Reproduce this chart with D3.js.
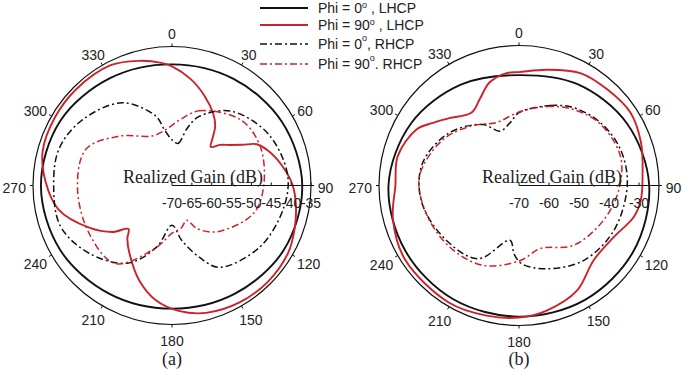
<!DOCTYPE html>
<html lang="en">
<head>
<meta charset="utf-8">
<title>Realized gain polar</title>
<script src="https://cdn.jsdelivr.net/npm/d3@7"></script>
<style>
body { margin: 0; background: #fff; }
</style>
</head>
<body>
<script>
var w = 685, h = 377;

// angle labels round both plots
var angleTicks = [0, 30, 60, 90, 120, 150, 180, 210, 240, 270, 300, 330];
var gainTicksA = [-70, -65, -60, -55, -50, -45, -40, -35];
var gainTicksB = [-70, -60, -50, -40, -30];

// legend
var legendNames = [["Phi = 0", " , LHCP"], ["Phi = 90", " , LHCP"], ["Phi = 0", ", RHCP"], ["Phi = 90", ". RHCP"]];

// (a) Phi = 0, LHCP
var aAng0L = [0, 30, 60, 90, 120, 150, 180, 210, 240, 270, 300, 330];
var aDb0L  = [-39.5, -39, -38, -37.2, -37.5, -38.5, -39, -38.5, -37.5, -37, -37.5, -38.8];
// (a) Phi = 90, LHCP
var aAng90L = [0, 10, 20, 30, 36, 41, 45, 50, 55, 60, 64, 70, 80, 90, 100, 110, 120, 135, 150, 165, 177, 188, 199, 212, 220, 225, 232, 243, 258, 272, 285, 300, 315, 333, 345, 355];
var aDb90L  = [-40, -42.8, -46, -49.2, -51.5, -54.5, -56.2, -54.1, -52.2, -49.5, -46.3, -44.3, -41.8, -39.6, -38.3, -37.2, -36.2, -35.8, -36, -36.8, -38.4, -40.8, -44.7, -49.8, -52.5, -54.5, -51, -46.6, -40.8, -38.1, -36.3, -35.9, -35.8, -36, -37.5, -39];
// (a) Phi = 0, RHCP
var aAng0R = [0, 8, 15, 21, 38, 61, 84, 101, 125, 150, 159, 170, 180, 194, 210, 231, 250, 270, 288, 306, 329, 347, 352];
var aDb0R  = [-58.5, -59.3, -55, -51.5, -46.2, -42.6, -40.8, -41.3, -43, -46.2, -50.6, -56, -60, -54, -47.4, -43, -40.1, -40.2, -40.1, -42, -45.7, -52.1, -55.7];
// (a) Phi = 90, RHCP
var aAng90R = [7, 20, 46, 66, 90, 109, 136, 150, 157, 168, 180, 194, 216, 240, 269, 293, 313, 339, 354];
var aDb90R  = [-53.3, -50, -46.1, -45.7, -46.9, -48.3, -53.8, -57.5, -60.5, -59, -58, -54, -45.7, -45.9, -46.2, -46.5, -51.8, -56.6, -55.8];

// (b) Phi = 0, LHCP
var bAng0L = [0, 30, 60, 90, 120, 150, 180, 210, 240, 270, 300, 330];
var bDb0L  = [-33.2, -31, -28.5, -26.6, -26, -26, -26.3, -26.2, -26.3, -26.5, -28.5, -31.2];
// (b) Phi = 90, LHCP
var bAng90L = [0, 13.5, 28.6, 42.5, 57, 70.7, 84.3, 96.8, 105.2, 118.4, 135, 151, 167.5, 180, 194, 211, 237, 255, 270, 283.5, 298.5, 306, 314, 327, 335.5, 344, 353.7];
var bDb90L  = [-32.2, -30.3, -27.3, -26.5, -25.6, -26.9, -28.6, -29.1, -30.3, -34, -34.8, -30, -27.3, -26, -25.3, -24.5, -24.7, -26.5, -28.8, -28.4, -31, -34.5, -37.7, -41, -38.4, -34.3, -32.3];
// (b) Phi = 0, RHCP
var bAng0R = [0, 21.3, 35.1, 52.4, 70.5, 89.5, 115.2, 139.1, 161.5, 178, 184, 189.4, 209.2, 236, 261.6, 283.1, 307.2, 329.5, 340.6, 351.8];
var bDb0R  = [-45.7, -41.4, -38.3, -35.7, -34.1, -33.9, -35, -37, -40.7, -43.9, -47, -51.5, -42, -39.4, -37, -37, -40.9, -46.4, -50.8, -48.9];
// (b) Phi = 90, RHCP
var bAng90R = [0, 19.5, 35.7, 53.2, 74, 92.5, 112.2, 137.5, 161.5, 179, 204.2, 228.5, 253.3, 275.2, 301.1, 322.6, 340.3];
var bDb90R  = [-45.5, -42.1, -38.8, -36, -34.8, -36.7, -39.5, -43, -47.8, -45, -40.8, -39.1, -37.7, -36.7, -40.4, -44.8, -47.7];

var red = "#cc2229";
var dashDot = "7,3,2,3";

function zip(angs, dbs) {
  return angs.map(function (a, i) { return {a: a, v: dbs[i]}; });
}

var svg = d3.select("body").append("svg")
  .attr("width", w)
  .attr("height", h);

function drawPolar(cfg) {
  var g = svg.append("g")
    .attr("transform", "translate(" + cfg.cx + "," + cfg.cy + ")");

  var rScale = d3.scaleLinear().domain(cfg.domain).range([0, cfg.rTick]);
  var rad = function (d) { return d * Math.PI / 180; };

  // outer ring
  g.append("circle")
    .attr("r", cfg.R)
    .attr("fill", "none")
    .attr("stroke", "#111")
    .attr("stroke-width", 1.2);

  // small ticks outside the ring
  g.selectAll(".aTick")
    .data(angleTicks)
    .enter()
    .append("line")
    .attr("x1", function (d) { return cfg.R * Math.sin(rad(d)); })
    .attr("y1", function (d) { return -cfg.R * Math.cos(rad(d)); })
    .attr("x2", function (d) { return (cfg.R + 3) * Math.sin(rad(d)); })
    .attr("y2", function (d) { return -(cfg.R + 3) * Math.cos(rad(d)); })
    .attr("stroke", "#111")
    .attr("stroke-width", 1);

  // angle labels: wider ring sideways to leave room for the digits
  g.selectAll(".aLab")
    .data(angleTicks)
    .enter()
    .append("text")
    .attr("x", function (d) {
      var tw = String(d).length * 8.5;
      return (cfg.R + 6 + tw / 2) * Math.sin(rad(d));
    })
    .attr("y", function (d) {
      return 2 - (cfg.R + 14.5) * Math.cos(rad(d));
    })
    .attr("dy", "0.36em")
    .attr("text-anchor", "middle")
    .attr("font-family", "Arial, 'Liberation Sans', sans-serif")
    .attr("font-size", "14px")
    .attr("fill", "#222")
    .text(function (d) { return d; });

  // pattern curves
  var line = d3.lineRadial()
    .angle(function (d) { return rad(d.a); })
    .radius(function (d) { return rScale(d.v); })
    .curve(d3.curveCatmullRomClosed.alpha(0.5));

  cfg.series.forEach(function (s) {
    g.append("path")
      .datum(zip(s.ang, s.db))
      .attr("d", line)
      .attr("fill", "none")
      .attr("stroke", s.color)
      .attr("stroke-width", s.dash ? 1.5 : 1.9)
      .attr("stroke-dasharray", s.dash ? dashDot : null);
  });

  // radial axis along 90 deg
  g.append("line")
    .attr("x1", 0).attr("y1", 0)
    .attr("x2", cfg.R + 2).attr("y2", 0)
    .attr("stroke", "#111")
    .attr("stroke-width", 1.2);

  g.selectAll(".rTick")
    .data(cfg.ticks)
    .enter()
    .append("line")
    .attr("x1", function (d) { return rScale(d); })
    .attr("x2", function (d) { return rScale(d); })
    .attr("y1", 0).attr("y2", -3)
    .attr("stroke", "#111");

  g.selectAll(".rLab")
    .data(cfg.ticks)
    .enter()
    .append("text")
    .attr("x", function (d) { return rScale(d); })
    .attr("y", 22)
    .attr("text-anchor", "middle")
    .attr("font-family", "Arial, 'Liberation Sans', sans-serif")
    .attr("font-size", "14px")
    .attr("fill", "#222")
    .text(function (d) { return d; });

  g.append("text")
    .attr("x", cfg.titleX)
    .attr("y", -3)
    .attr("text-anchor", "end")
    .attr("font-family", "'Liberation Serif', 'Times New Roman', serif")
    .attr("font-size", "18px")
    .attr("fill", "#222")
    .text("Realized Gain (dB)");

  svg.append("text")
    .attr("x", cfg.cx)
    .attr("y", 365)
    .attr("text-anchor", "middle")
    .attr("font-family", "'Liberation Serif', 'Times New Roman', serif")
    .attr("font-size", "18px")
    .attr("fill", "#222")
    .text(cfg.caption);
}

drawPolar({
  cx: 172, cy: 185.5, R: 139, rTick: 139, domain: [-70, -35], ticks: gainTicksA,
  titleX: 91, caption: "(a)",
  series: [
    {ang: aAng0L, db: aDb0L, color: "#111", dash: false},
    {ang: aAng90L, db: aDb90L, color: red, dash: false},
    {ang: aAng0R, db: aDb0R, color: "#111", dash: true},
    {ang: aAng90R, db: aDb90R, color: red, dash: true}
  ]
});

drawPolar({
  cx: 519, cy: 185.5, R: 140, rTick: 120, domain: [-70, -30], ticks: gainTicksB,
  titleX: 103, caption: "(b)",
  series: [
    {ang: bAng0L, db: bDb0L, color: "#111", dash: false},
    {ang: bAng90L, db: bDb90L, color: red, dash: false},
    {ang: bAng0R, db: bDb0R, color: "#111", dash: true},
    {ang: bAng90R, db: bDb90R, color: red, dash: true}
  ]
});

// legend
var legendY = [8, 25, 44, 64];
var legendColor = ["#111", red, "#111", red];
var legendDash = [null, null, dashDot, dashDot];

var leg = svg.append("g");
legendNames.forEach(function (n, i) {
  leg.append("line")
    .attr("x1", 260).attr("x2", 308)
    .attr("y1", legendY[i]).attr("y2", legendY[i])
    .attr("stroke", legendColor[i])
    .attr("stroke-width", legendDash[i] ? 1.5 : 2)
    .attr("stroke-dasharray", legendDash[i]);
  var t = leg.append("text")
    .attr("x", 318)
    .attr("y", legendY[i] + 5)
    .attr("font-family", "Arial, 'Liberation Sans', sans-serif")
    .attr("font-size", "14px")
    .attr("fill", "#222");
  t.append("tspan").text(n[0]);
  t.append("tspan").attr("dy", i < 2 ? -5 : -8).attr("font-size", "9px").text("o");
  t.append("tspan").attr("dy", i < 2 ? 5 : 8).text(n[1]);
});
</script>
</body>
</html>
